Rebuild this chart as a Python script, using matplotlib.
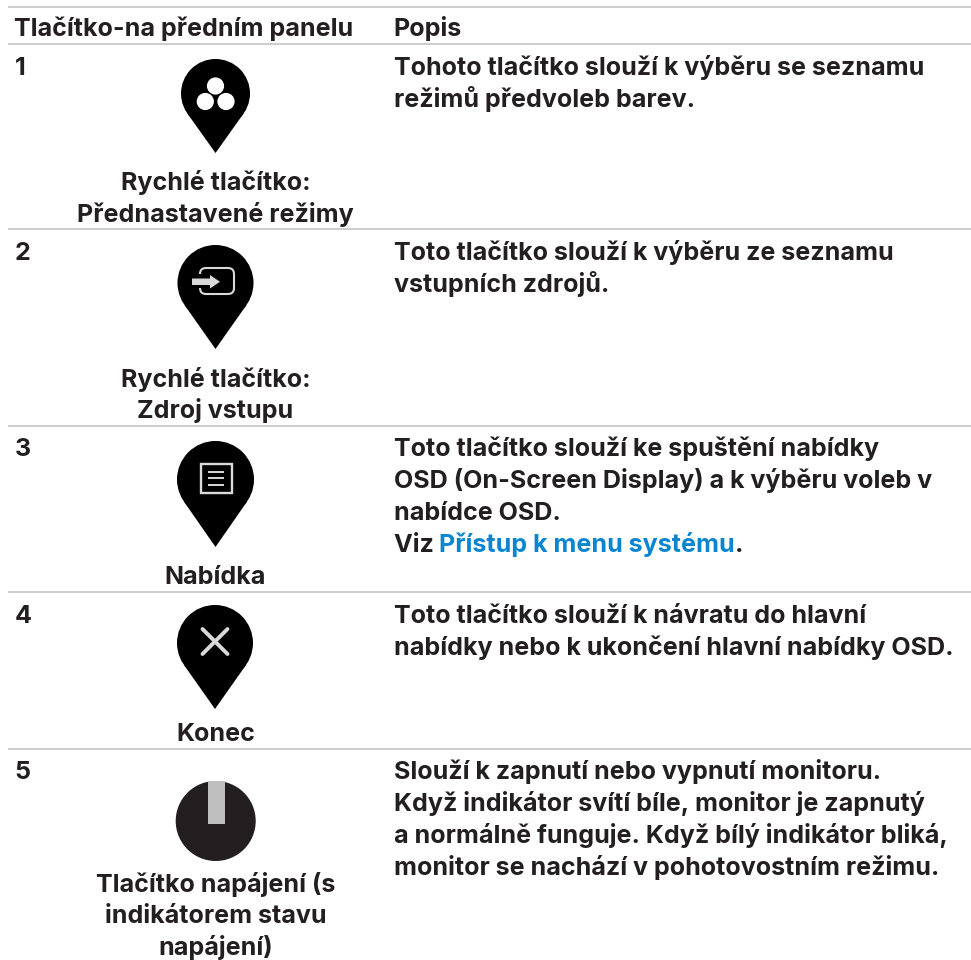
import math
import matplotlib
matplotlib.use("Agg")
import matplotlib.pyplot as plt
from matplotlib.patches import Circle, Polygon, Rectangle, FancyBboxPatch

INK = "#231f20"
RULE = "#bfbfbf"
BLUE = "#0a86d0"
ICON = "#d9d9d9"
FONT = "Inter"
SIZE = 18.05

header = ["Tlačítko-na předním panelu", "Popis"]
row_numbers = ["1", "2", "3", "4", "5"]
number_baselines = [75, 260, 456, 623, 779]
rule_ys = [7, 44, 229, 426, 592, 749]
left_labels = [
    ["Rychlé tlačítko:", "Přednastavené režimy"],
    ["Rychlé tlačítko:", "Zdroj vstupu"],
    ["Nabídka"],
    ["Konec"],
    ["Tlačítko napájení (s", "indikátorem stavu", "napájení)"],
]
left_baselines = [[190, 222], [387, 418], [584], [741], [892, 923, 955]]
descriptions = [
    ["Tohoto tlačítko slouží k výběru se seznamu", "režimů předvoleb barev."],
    ["Toto tlačítko slouží k výběru ze seznamu", "vstupních zdrojů."],
    ["Toto tlačítko slouží ke spuštění nabídky",
     "OSD (On-Screen Display) a k výběru voleb v",
     "nabídce OSD."],
    ["Toto tlačítko slouží k návratu do hlavní",
     "nabídky nebo k ukončení hlavní nabídky OSD."],
    ["Slouží k zapnutí nebo vypnutí monitoru.",
     "Když indikátor svítí bíle, monitor je zapnutý",
     "a normálně funguje. Když bílý indikátor bliká,",
     "monitor se nachází v pohotovostním režimu."],
]
desc_baselines = [[75, 107], [260, 292], [456, 488, 520], [623, 655], [779, 811, 843, 875]]
link_parts = ["Viz ", "Přístup k menu systému", "."]
link_baseline = 552

fig = plt.figure(figsize=(9.71, 9.6), dpi=100, facecolor="white")
ax = fig.add_axes([0, 0, 1, 1])
ax.set_xlim(0, 971)
ax.set_ylim(960, 0)
ax.axis("off")


def txt(x, y, s, color=INK, ha="left"):
    return ax.text(x, y, s, family=FONT, fontweight="bold", fontsize=SIZE,
                   color=color, ha=ha, va="baseline")


def pin(cx, top, bottom, r):
    cy = top + r
    ax.add_patch(Circle((cx, cy), r, fc="black", ec="none"))
    a = math.radians(35)
    ax.add_patch(Polygon([(cx - r * math.cos(a), cy + r * math.sin(a)),
                          (cx + r * math.cos(a), cy + r * math.sin(a)),
                          (cx, bottom)], fc="black", ec="none"))


for y in rule_ys:
    ax.plot([8, 971], [y, y], color=RULE, lw=1.1, solid_capstyle="butt")

txt(14.5, 36, header[0])
txt(393.5, 36, header[1])
for n, y in zip(row_numbers, number_baselines):
    txt(14.5, y, n)
for lines, ys in zip(left_labels, left_baselines):
    for s, y in zip(lines, ys):
        txt(215.5, y, s, ha="center")
for lines, ys in zip(descriptions, desc_baselines):
    for s, y in zip(lines, ys):
        txt(393.5, y, s)

# link line, assembled from measured pieces
r = fig.canvas.get_renderer()
x = 393.5
for s, c in zip(link_parts, [INK, BLUE, INK]):
    t = txt(x, link_baseline, s.replace(" ", "\u00a0"), color=c)
    x = t.get_window_extent(r).x1

# pin 1
pin(215.5, 59, 153, 34.5)
for cx, cy in [(215.5, 86), (205.3, 101.5), (226, 101.5)]:
    ax.add_patch(Circle((cx, cy), 8.6, fc="white", ec="none"))

# pin 2
pin(215.5, 245, 349, 38)
ax.add_patch(FancyBboxPatch((203, 271), 28, 20, boxstyle="round,pad=3,rounding_size=6",
                            fc="none", ec=ICON, lw=1.5))
ax.add_patch(Rectangle((196, 274), 10, 14, fc="black", ec="none"))
ax.add_patch(Polygon([(192, 278.5), (210, 278.5), (210, 275), (220, 281.8), (210, 288.5),
                      (210, 285), (192, 285)], fc=ICON, ec="none"))

# pin 3
pin(215.5, 441, 547, 38.5)
ax.add_patch(Rectangle((200.5, 463.5), 31, 29, fc="none", ec=ICON, lw=1.7))
for y in [471.5, 478, 484.5]:
    ax.plot([208, 224], [y, y], color=ICON, lw=1.4, solid_capstyle="butt")

# pin 4
pin(215, 605, 709, 38)
ax.plot([202.5, 227.5], [629, 654], color=ICON, lw=2.8, solid_capstyle="round")
ax.plot([202.5, 227.5], [654, 629], color=ICON, lw=2.8, solid_capstyle="round")

# power button
ax.add_patch(Circle((215.7, 821), 40, fc=INK, ec="none"))
ax.add_patch(Rectangle((207.7, 781), 17.3, 43, fc=RULE, ec="none"))

fig.savefig("out.png", dpi=100, facecolor="white")
